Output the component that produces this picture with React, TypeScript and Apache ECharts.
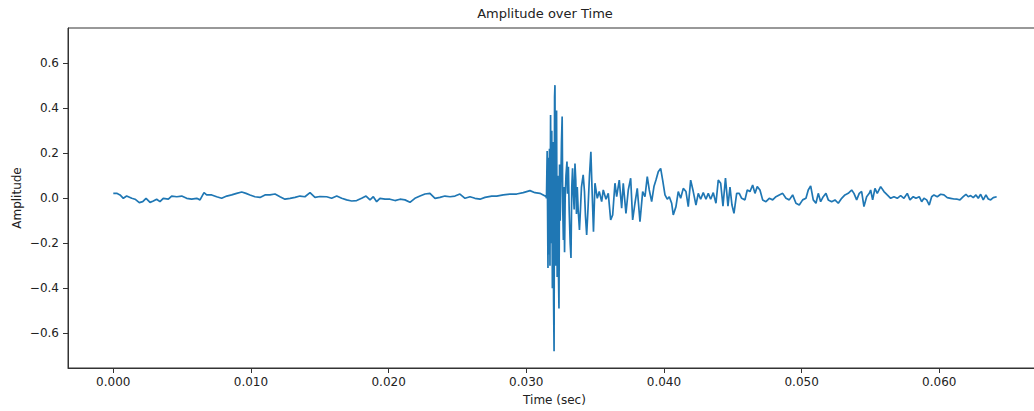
import React, { useEffect, useRef } from "react";
import * as echarts from "echarts";

// ---- tick labels ----
const xTicks = [0, 0.01, 0.02, 0.03, 0.04, 0.05, 0.06];
const yTicks = [-0.6, -0.4, -0.2, 0, 0.2, 0.4, 0.6];

// ---- quiet segment before the burst (time in s, amplitude) ----
const timeQuiet = [
  0.0, 0.00025, 0.00049, 0.00073, 0.00097, 0.00134, 0.00158, 0.00189, 0.00214, 0.00238,
  0.00267, 0.00291, 0.00315, 0.00339, 0.00363, 0.004, 0.00424, 0.00461, 0.00497, 0.00533,
  0.00569, 0.00606, 0.0063, 0.00659, 0.00678, 0.00715, 0.00751, 0.00787, 0.00824, 0.0086,
  0.00896, 0.00933, 0.00964, 0.00993, 0.01029, 0.01066, 0.01102, 0.01138, 0.01175, 0.01211,
  0.01247, 0.01284, 0.0132, 0.01356, 0.01392, 0.01429, 0.01465, 0.01501, 0.0155, 0.01586,
  0.01623, 0.01659, 0.01695, 0.01732, 0.01768, 0.01804, 0.01836, 0.01865, 0.01889, 0.01913,
  0.01937, 0.01974, 0.0201, 0.02046, 0.02083, 0.02119, 0.02155, 0.02191, 0.02228, 0.02264,
  0.023, 0.02337, 0.02373, 0.02409, 0.02446, 0.02482, 0.02518, 0.02555, 0.02591, 0.02627,
  0.02664, 0.027, 0.02749, 0.02785, 0.02833, 0.02882, 0.0293, 0.02978, 0.03027, 0.03063,
  0.03099, 0.03123, 0.03143,
];
const ampQuiet = [
  0.022, 0.022, 0.015, 0.0, 0.01, 0.0, -0.004, -0.019, -0.015, 0.0,
  -0.018, -0.012, -0.004, -0.015, 0.0, -0.004, 0.01, 0.007, 0.01, 0.0,
  -0.004, 0.0, -0.007, 0.025, 0.015, 0.015, 0.007, 0.0, 0.01, 0.015,
  0.022, 0.028, 0.022, 0.015, 0.007, 0.004, 0.015, 0.015, 0.019, 0.007,
  -0.004, 0.0, 0.004, 0.01, 0.007, 0.025, 0.004, 0.008, 0.007, 0.0,
  0.01, 0.0, -0.007, -0.012, -0.01, 0.0, 0.01, -0.007, 0.007, -0.015,
  0.0, -0.004, -0.004, -0.01, -0.004, -0.007, -0.018, 0.0, 0.01, 0.019,
  0.022, 0.0, 0.004, 0.01, 0.007, 0.01, 0.019, 0.0, 0.007, 0.0,
  -0.004, 0.004, 0.01, 0.01, 0.015, 0.019, 0.019, 0.025, 0.034, 0.025,
  0.022, 0.015, 0.008,
];

// ---- burst ----
const timeBurst = [
  0.031467, 0.031518, 0.031547, 0.031576, 0.031612, 0.031649, 0.031685, 0.031721, 0.031765, 0.031808,
  0.031852, 0.031895, 0.031939, 0.031983, 0.032019, 0.032055, 0.032084, 0.03212, 0.032157, 0.0322,
  0.032244, 0.032288, 0.032331, 0.032375, 0.032418, 0.032462, 0.032506, 0.032556, 0.032607, 0.032651,
  0.032694, 0.032738, 0.032781, 0.032825, 0.032883, 0.032956, 0.032999, 0.033058, 0.033116, 0.033189,
  0.033247, 0.033305, 0.033363, 0.033421, 0.033479, 0.033537, 0.033595, 0.033646, 0.033704, 0.033769,
  0.033864, 0.033936, 0.034009, 0.034133, 0.034227, 0.0343, 0.034387, 0.034481, 0.03459, 0.034692,
  0.034772, 0.034881, 0.03499,
];
const ampBurst = [
  0.0, 0.21, -0.05, -0.31, 0.18, -0.25, 0.22, -0.3, 0.37, -0.2,
  0.3, -0.4, 0.25, -0.45, -0.68, 0.45, 0.503, -0.3, 0.2, 0.39,
  -0.35, 0.1, -0.3, -0.49, 0.15, -0.1, 0.05, 0.25, 0.363, -0.05,
  -0.185, 0.05, -0.24, 0.0, 0.1, 0.163, 0.02, 0.14, -0.05, -0.2,
  -0.265, 0.05, 0.133, 0.02, -0.05, 0.155, 0.08, -0.07, 0.05, -0.05,
  -0.141, -0.05, 0.05, 0.104, 0.03, -0.08, -0.163, -0.05, 0.1, 0.207,
  0.05, -0.148, 0.067,
];

// ---- decaying tail ----
const timeTail = [
  0.035157, 0.035302, 0.035476, 0.035593, 0.035789, 0.035956, 0.03613, 0.036276, 0.036442, 0.036566,
  0.036755, 0.036929, 0.037045, 0.037241, 0.037409, 0.037583, 0.037728, 0.037895, 0.038062, 0.038259,
  0.038455, 0.038622, 0.038789, 0.038934, 0.039108, 0.039275, 0.039421, 0.039588, 0.039762, 0.039907,
  0.040075, 0.040241, 0.040387, 0.040561, 0.040677, 0.040873, 0.04104, 0.041215, 0.041404, 0.0416,
  0.041767, 0.041941, 0.04213, 0.042326, 0.042493, 0.042667, 0.042856, 0.043052, 0.04322, 0.043394,
  0.043583, 0.043779, 0.043946, 0.044121, 0.044288, 0.04447, 0.044651, 0.044797, 0.044942, 0.045087,
  0.045283, 0.045471, 0.045646, 0.045886, 0.046052, 0.046249, 0.046445, 0.046612, 0.046779, 0.046975,
  0.047171, 0.047411, 0.047651, 0.047898, 0.048138, 0.048377, 0.048624, 0.048864, 0.049103, 0.04935,
  0.04959, 0.04983, 0.050077, 0.050316, 0.050483, 0.050658, 0.050847, 0.051043, 0.05121, 0.051384,
  0.051573, 0.051769, 0.051936, 0.052183, 0.052423, 0.052663, 0.05291, 0.053149, 0.053389, 0.053636,
  0.053803, 0.053999, 0.054188, 0.054362, 0.054529, 0.054725, 0.054914, 0.055016, 0.055161, 0.055328,
  0.055495, 0.055742, 0.055982, 0.056222, 0.056469, 0.056708, 0.056948, 0.057195, 0.057435, 0.057675,
  0.057871, 0.05811, 0.058307, 0.058546, 0.058721, 0.058888, 0.059084, 0.059273, 0.059447, 0.059614,
  0.059854, 0.060101, 0.06034, 0.06058, 0.060827, 0.061067, 0.061307, 0.061503, 0.061742, 0.061939,
  0.062106, 0.06228, 0.062469, 0.062665, 0.062832, 0.063006, 0.063195, 0.063391, 0.063558, 0.063733,
  0.063922, 0.064169,
];
const ampTail = [
  0.0, 0.03, -0.015, 0.037, -0.004, 0.022, -0.096, -0.074, 0.067, 0.007,
  0.081, -0.044, 0.067, -0.067, 0.037, 0.089, -0.096, -0.022, 0.044, -0.104,
  0.03, 0.007, 0.096, 0.037, -0.015, 0.052, 0.081, 0.118, 0.133, 0.081,
  0.015, -0.004, 0.007, -0.022, -0.074, -0.037, 0.03, 0.0, 0.044, 0.03,
  -0.037, 0.081, 0.03, -0.03, 0.022, -0.004, 0.025, -0.004, 0.022, -0.004,
  0.025, -0.022, 0.081, 0.067, -0.035, 0.09, -0.035, 0.05, -0.03, -0.067,
  0.022, 0.022, 0.0, -0.007, 0.037, 0.03, 0.059, 0.022, 0.052, 0.037,
  -0.007, -0.015, 0.0, -0.007, 0.007, 0.015, 0.022, 0.0, -0.007, 0.015,
  -0.022, -0.03, -0.007, 0.0, 0.037, 0.055, -0.007, -0.022, 0.022, -0.015,
  0.007, 0.022, -0.007, -0.015, -0.007, -0.022, 0.0, 0.015, 0.022, 0.037,
  0.022, -0.007, 0.022, 0.03, -0.037, 0.007, 0.022, 0.037, -0.007, 0.044,
  0.022, 0.052, 0.03, 0.015, 0.0, 0.007, 0.0, 0.012, 0.0, 0.022,
  -0.007, 0.007, 0.0, 0.007, -0.015, 0.0, -0.007, -0.03, 0.007, 0.015,
  0.007, 0.018, 0.015, 0.003, 0.0, -0.003, -0.004, -0.007, 0.007, 0.018,
  0.007, 0.012, 0.003, 0.015, 0.0, 0.018, -0.007, 0.015, -0.003, -0.007,
  0.003, 0.007,
];

const FONT = "DejaVu Sans";
const TXT = "#222";
const AX = "#333";

function zip(t: number[], a: number[]): number[][] {
  const n = Math.min(t.length, a.length);
  const out: number[][] = [];
  for (let i = 0; i < n; i++) out.push([t[i], a[i]]);
  return out;
}

export default function App() {
  const ref = useRef<HTMLDivElement>(null);
  useEffect(() => {
    if (!ref.current) return;
    const chart = echarts.init(ref.current, null, { renderer: "svg" });
    const data = [
      ...zip(timeQuiet, ampQuiet),
      ...zip(timeBurst, ampBurst),
      ...zip(timeTail, ampTail),
    ];
    chart.setOption({
      animation: false,
      backgroundColor: "#fff",
      grid: {
        left: 68,
        top: 28,
        width: 973,
        height: 340,
        show: true,
        borderColor: AX,
        borderWidth: 1,
        backgroundColor: "transparent",
      },
      xAxis: {
        type: "value",
        min: -0.00329,
        max: 0.06739,
        axisLine: { show: true, onZero: false, lineStyle: { color: AX, width: 1 } },
        axisTick: { show: true, length: 5, customValues: xTicks, lineStyle: { color: AX, width: 1 } },
        axisLabel: {
          show: true,
          customValues: xTicks,
          margin: 8,
          color: TXT,
          fontFamily: FONT,
          fontSize: 12,
          formatter: (v: number) => v.toFixed(3),
        },
        splitLine: { show: false },
      },
      yAxis: {
        type: "value",
        min: -0.7542,
        max: 0.7569,
        axisLine: { show: true, onZero: false, lineStyle: { color: AX, width: 1 } },
        axisTick: { show: true, length: 5, customValues: yTicks, lineStyle: { color: AX, width: 1 } },
        axisLabel: {
          show: true,
          customValues: yTicks,
          margin: 9,
          color: TXT,
          fontFamily: FONT,
          fontSize: 12,
          formatter: (v: number) => (v < -1e-9 ? "\u2212" : "") + Math.abs(v).toFixed(1),
        },
        splitLine: { show: false },
      },
      graphic: [
        {
          type: "text",
          x: 545,
          y: 13,
          style: {
            text: "Amplitude over Time",
            fill: TXT,
            font: `13px "${FONT}"`,
            textAlign: "center",
            textVerticalAlign: "middle",
          },
        },
        {
          type: "text",
          x: 554.5,
          y: 400,
          style: {
            text: "Time (sec)",
            fill: TXT,
            font: `12px "${FONT}"`,
            textAlign: "center",
            textVerticalAlign: "middle",
          },
        },
        {
          type: "text",
          x: 16.5,
          y: 198,
          rotation: Math.PI / 2,
          style: {
            text: "Amplitude",
            fill: TXT,
            font: `12px "${FONT}"`,
            textAlign: "center",
            textVerticalAlign: "middle",
          },
        },
      ],
      series: [
        {
          type: "line",
          data,
          showSymbol: false,
          symbol: "none",
          lineStyle: { color: "#1f77b4", width: 1.7 },
          itemStyle: { color: "#1f77b4" },
          z: 3,
        },
      ],
    });
    return () => chart.dispose();
  }, []);
  return (
    <div
      style={{
        position: "absolute",
        left: 0,
        top: 0,
        width: 1034,
        height: 411,
        overflow: "hidden",
        background: "#fff",
      }}
    >
      <div ref={ref} style={{ width: 1060, height: 411 }} />
    </div>
  );
}
